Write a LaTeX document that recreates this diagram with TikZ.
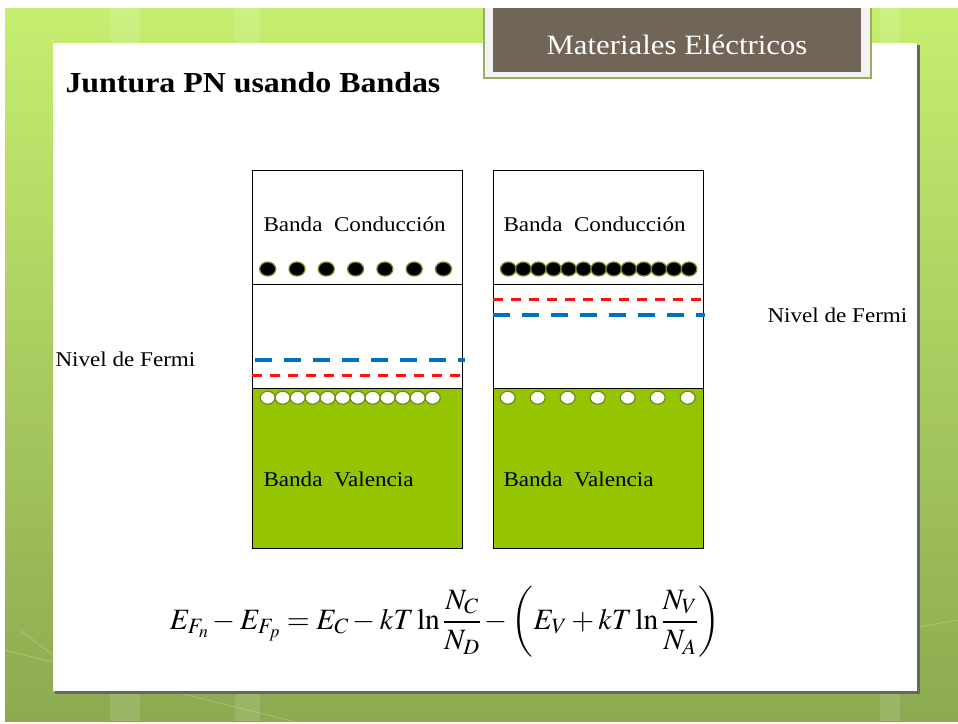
\documentclass[tikz,border=0pt]{standalone}
\usepackage{amsmath}
\usepackage{mathptmx}
\usepackage{fontspec}
\setmainfont[FakeStretch=1.1]{Liberation Serif}
\definecolor{marron}{HTML}{706557}
\definecolor{hoja}{HTML}{95C400}
\definecolor{oliva}{HTML}{6E8C1E}
\definecolor{azul}{HTML}{0070C0}
\definecolor{rojo}{HTML}{FF1010}
\definecolor{fondoA}{HTML}{C6EE70}
\definecolor{fondoB}{HTML}{8CAA50}

\begin{document}
\begin{tikzpicture}[x=1pt,y=-1pt,line width=1pt,
  electron/.style={fill=black,draw=oliva,line width=1.2pt},
  hueco/.style={fill=white,draw=oliva,line width=1.2pt},
  fermiA/.style={azul,line width=4pt,dash pattern=on 17pt off 12pt},
  fermiB/.style={rojo,line width=3pt,dash pattern=on 10pt off 8pt},
  rotulo/.style={anchor=base west,font=\fontsize{21}{24}\selectfont,inner sep=0pt}]
\useasboundingbox (0,0) rectangle (958,723);
% fondo verde y hoja blanca
\shade[top color=fondoA,bottom color=fondoB] (5,8) rectangle (958,721);
\fill[white,opacity=0.12] (110,8) rectangle (140,721) (235,8) rectangle (260,721) (880,8) rectangle (900,721);
\draw[white,opacity=0.3,line width=0.6pt] (5,650) -- (300,723) (560,690) -- (958,620) (20,630) -- (53,655);
\fill[black!60] (55,45) rectangle (920,694);
\fill[white] (53,43) rectangle (917,691);
% titulo
\fill[black!5] (484,8) rectangle (871,78);
\draw[oliva!70,line width=1.2pt] (484,8) -- (484,78) -- (871,78) -- (871,8);
\fill[marron] (493,8) rectangle (861,72);
\node[white,font=\fontsize{28}{30}\selectfont] (curso) at (677,45) {Materiales Eléctricos};
\node[anchor=base west,inner sep=0pt,font=\fontsize{29}{32}\selectfont\bfseries] (tema) at (65,92) {Juntura PN usando Bandas};
% bandas: tipo n (izq) y tipo p (der)
\foreach \x in {252,493}{
  \fill[hoja] (\x,388) rectangle (\x+210,548);
  \draw (\x,170) rectangle (\x+210,284);
  \draw (\x,284) -- (\x,388) (\x+210,284) -- (\x+210,388);
  \draw (\x,388) rectangle (\x+210,548);
}
% niveles de Fermi
\draw[fermiA] (255,360) -- (465,360);
\draw[fermiB] (252,375) -- (462,375);
\draw[fermiB] (493,299) -- (703,299);
\draw[fermiA] (493,315) -- (705,315);
% electrones y huecos
\foreach \i in {0,...,6}
  \draw[electron] (267.7+29.3*\i,269) ellipse (8 and 7);
\foreach \i in {0,...,11}
  \draw[hueco] (267.7+15*\i,397.7) ellipse (7.5 and 6.5);
\foreach \i in {0,...,12}
  \draw[electron] (508.3+15.06*\i,269) ellipse (7.8 and 7);
\foreach \i in {0,...,6}
  \draw[hueco] (507.7+30*\i,397.7) ellipse (7.5 and 6.5);
% textos
\node[rotulo] (bcn) at (263,231) {Banda\ \ Conducción};
\node[rotulo] (bcp) at (503,231) {Banda\ \ Conducción};
\node[rotulo] (bvn) at (263,486) {Banda\ \ Valencia};
\node[rotulo] (bvp) at (503,486) {Banda\ \ Valencia};
\node[rotulo] (fermin) at (55,366) {Nivel de Fermi};
\node[rotulo] (fermip) at (767,322) {Nivel de Fermi};
% ecuacion
\node[font=\fontsize{29.5}{32}\selectfont] (ecuacion) at (445,622)
  {$E_{F_n}-E_{F_p}=E_C-kT\ln\dfrac{N_C}{N_D}-\left(E_V+kT\ln\dfrac{N_V}{N_A}\right)$};
\end{tikzpicture}
\end{document}
